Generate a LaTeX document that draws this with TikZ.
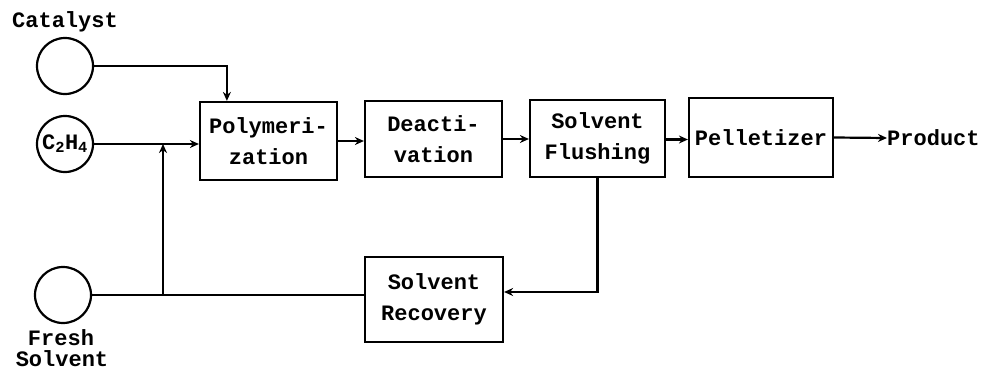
\documentclass[tikz,border=0pt]{standalone}
\usepackage{fontspec}
\setmonofont{Liberation Mono}
\usetikzlibrary{arrows.meta}
\begin{document}
\begin{tikzpicture}[x=1pt,y=-1pt,
  every node/.style={font=\ttfamily\bfseries\fontsize{22}{31}\selectfont, inner sep=0pt},
  feed/.style={draw, circle, line width=2.2pt, minimum size=56pt},
  unit/.style={draw, rectangle, line width=2.2pt, align=center},
  flow/.style={line width=2.2pt},
  arr/.style={flow, -{Stealth[length=9pt,width=8pt]}}]
  \useasboundingbox (0,0) rectangle (985,372);
  \fill[white] (0,0) rectangle (985,372);

  % feed vessels
  \node[feed] (cat) at (65,66) {};
  \node (catlbl) at (65,22) {Catalyst};
  \node[feed] (eth) at (65,144) {C\textsubscript{2}H\textsubscript{4}};
  \node[feed] (fresh) at (63,295) {};
  \node (freshlbl) at (61,338) {Fresh};
  \node (solvlbl) at (62,359) {Solvent};

  % process units
  \node[unit, minimum width=137pt, minimum height=78pt] (poly) at (268.5,141) {Polymeri-\\zation};
  \node[unit, minimum width=137pt, minimum height=76pt] (deact) at (433.5,139) {Deacti-\\vation};
  \node[unit, minimum width=135pt, minimum height=77pt] (flush) at (597.5,138.5) {Solvent\\Flushing};
  \node[unit, minimum width=144pt, minimum height=79pt] (pell) at (761,137.5) {Pelletizer};
  \node[unit, minimum width=138pt, minimum height=85pt] (recov) at (434,299.5) {Solvent\\Recovery};
  \node[anchor=west] (prod) at (887,138) {Product};

  % main line
  \draw[arr] (cat.east) -| ([xshift=28pt]poly.north west);
  \draw[arr] (eth.east) -- (eth.east -| poly.west);
  \draw[arr] (poly.east) -- (poly.east -| deact.west);
  \draw[arr] (deact.east) -- (deact.east -| flush.west);
  \draw[arr] ([yshift=-1pt]flush.east) -- ([yshift=-1pt]flush.east -| pell.west);
  \draw[arr] (pell.east) -- (prod.west);

  % solvent recycle
  \draw[arr] (flush.south) |- ([yshift=7.5pt]recov.east);
  \coordinate (mix) at (163,295);
  \draw[flow] (fresh.east) -- (fresh.east -| recov.west);
  \draw[arr] (mix) -- (mix |- eth.east);
\end{tikzpicture}
\end{document}
